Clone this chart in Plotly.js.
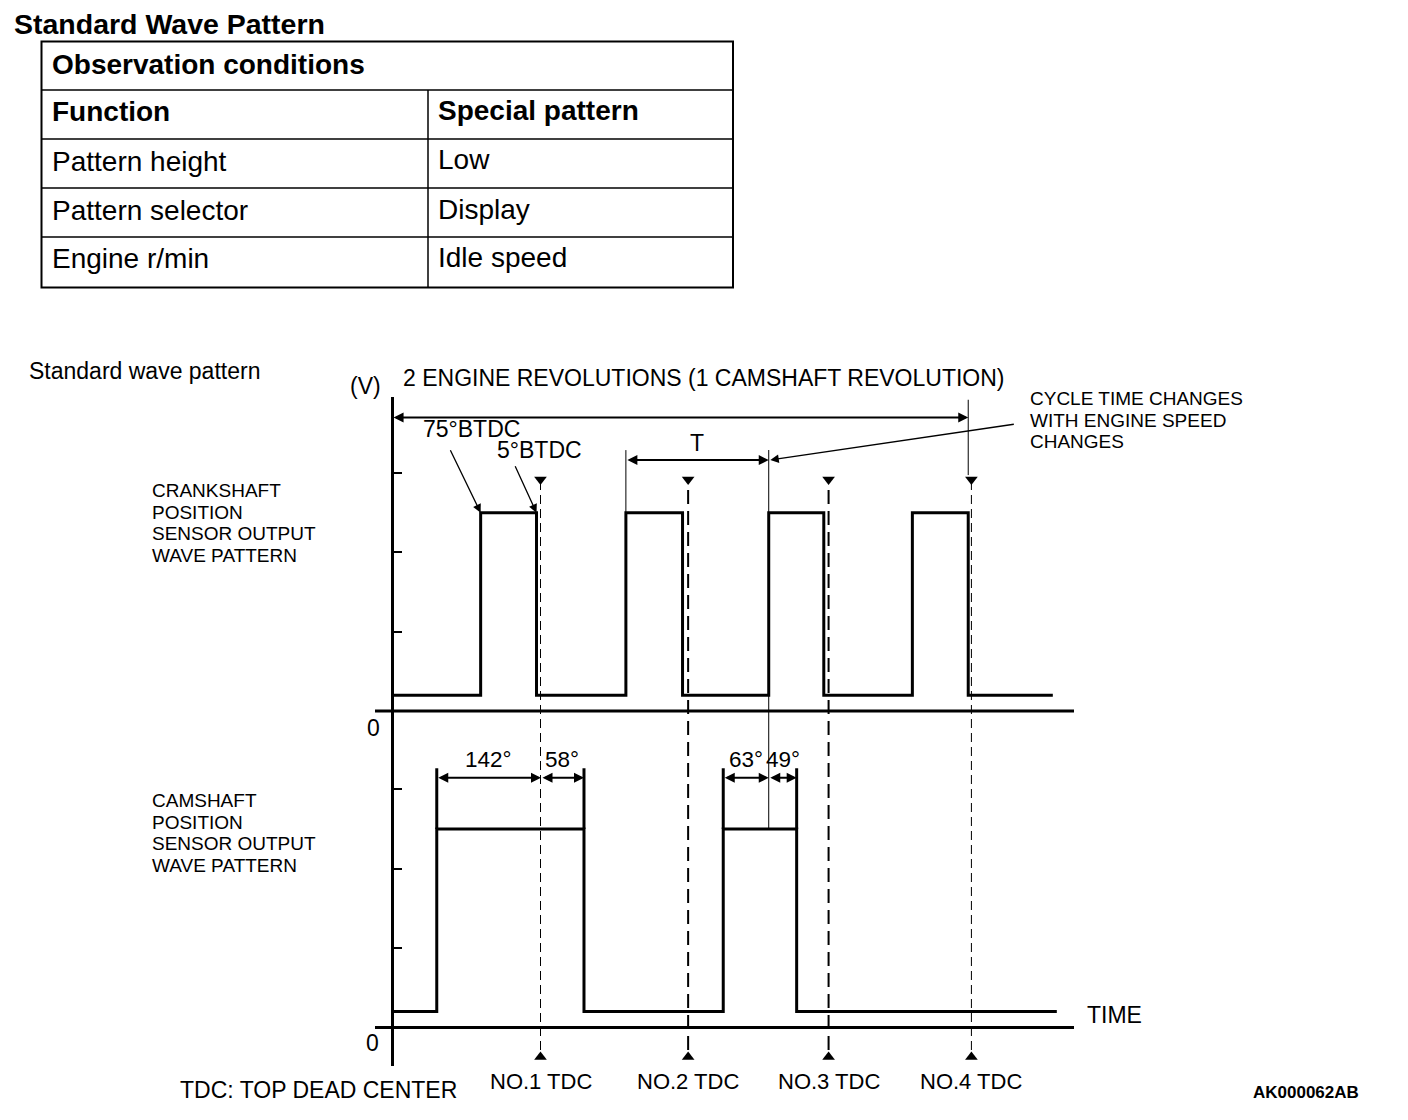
<!DOCTYPE html>
<html><head><meta charset="utf-8">
<script src="https://cdn.plot.ly/plotly-3.0.1.min.js"></script>
<style>html,body{margin:0;padding:0;background:#fff}</style>
</head><body><div id="chart" style="width:1408px;height:1120px"></div>
<script>
// ---------------- data ----------------
const tableTitle = 'Observation conditions';
const tableColumns = ['Function', 'Special pattern'];
const tableFunctions = ['Pattern height', 'Pattern selector', 'Engine r/min'];
const tableSettings = ['Low', 'Display', 'Idle speed'];

// crank angle (deg, 0 = NO.1 TDC)
const waveStart = -186;
const crankEdges = [-75, -5, 107, 178, 286, 355, 466, 536]; // rise, fall, rise, fall ...
const crankEnd = 642;
const camEdges = [-130, 54.5, 229, 321];
const camEnd = 647;
const lowVolt = 0.4;
const highVolt = 5.0;
const voltTicks = [2, 4, 6];
const tdcDeg = [0, 185, 361, 540];
const tdcLabels = ['NO.1 TDC', 'NO.2 TDC', 'NO.3 TDC', 'NO.4 TDC'];
const crankLabels = ['CRANKSHAFT', 'POSITION', 'SENSOR OUTPUT', 'WAVE PATTERN'];
const camLabels = ['CAMSHAFT', 'POSITION', 'SENSOR OUTPUT', 'WAVE PATTERN'];
const camDimStart = [-130, 0.6, 229, 286];
const camDimEnd = [0.6, 54.5, 286, 321];
const camDimLabels = ['142°', '58°', '63°', '49°'];
const cycleNote = ['CYCLE TIME CHANGES', 'WITH ENGINE SPEED', 'CHANGES'];

// ---------------- helpers ----------------
const W = 1408, H = 1120;
const FONT = 'Liberation Sans, Arial, sans-serif';
const fx = px => px / W;
const fy = py => 1 - py / H;
const degAt = px => (px - 540.5) / 0.798;

function steps(start, edges, end) {
  const xs = [start], ys = [lowVolt];
  edges.forEach((e, i) => { xs.push(e); ys.push(i % 2 === 0 ? highVolt : lowVolt); });
  xs.push(end); ys.push(lowVolt);
  return {xs, ys};
}
const crank = steps(waveStart, crankEdges, crankEnd);
const cam = steps(waveStart, camEdges, camEnd);

const traces = [
  {x: crank.xs, y: crank.ys, xaxis: 'x', yaxis: 'y', mode: 'lines',
   line: {shape: 'hv', color: '#000', width: 3}, hoverinfo: 'skip'},
  {x: cam.xs, y: cam.ys, xaxis: 'x', yaxis: 'y2', mode: 'lines',
   line: {shape: 'hv', color: '#000', width: 3}, hoverinfo: 'skip'},
  {x: tdcDeg, y: tdcDeg.map(() => 5.84), xaxis: 'x', yaxis: 'y', mode: 'markers',
   marker: {symbol: 'triangle-down', size: 11, color: '#000'}, hoverinfo: 'skip'},
  {x: tdcDeg, y: tdcDeg.map(() => -0.74), xaxis: 'x', yaxis: 'y2', mode: 'markers',
   marker: {symbol: 'triangle-up', size: 11, color: '#000'}, hoverinfo: 'skip'}
];

const shapes = [];
const line = (o) => shapes.push(Object.assign({type: 'line', layer: 'above'}, o));
// table
line({type: 'rect', xref: 'paper', yref: 'paper', x0: fx(41.5), x1: fx(733), y0: fy(41.5), y1: fy(287.5), line: {color: '#000', width: 2}});
[90, 139, 188, 237].forEach(y => line({xref: 'paper', yref: 'paper', x0: fx(41.5), x1: fx(733), y0: fy(y), y1: fy(y), line: {color: '#000', width: 1.5}}));
line({xref: 'paper', yref: 'paper', x0: fx(428), x1: fx(428), y0: fy(90), y1: fy(287.5), line: {color: '#000', width: 1.5}});
// zero baselines
const baseSpan = [degAt(375), degAt(1074)];
line({xref: 'x', yref: 'y', x0: baseSpan[0], x1: baseSpan[1], y0: 0, y1: 0, line: {color: '#000', width: 3}});
line({xref: 'x', yref: 'y2', x0: baseSpan[0], x1: baseSpan[1], y0: 0, y1: 0, line: {color: '#000', width: 3}});
// TDC dashed lines
tdcDeg.forEach((d, i) => {
  const bold = (i === 1 || i === 2);
  line({xref: 'x', yref: 'paper', x0: d, x1: d, y0: fy(1050), y1: fy(484),
        line: {color: '#000', width: bold ? 2 : 1, dash: bold ? '14px,7px' : '9px,5px'}});
});
// 2-rev extension at right end
line({xref: 'x', yref: 'y', x0: crankEdges[7], x1: crankEdges[7], y0: 5.95, y1: 7.85, line: {color: '#000', width: 1}});
// T extension lines
line({xref: 'x', yref: 'y', x0: crankEdges[2], x1: crankEdges[2], y0: highVolt, y1: 6.58, line: {color: '#000', width: 1}});
line({xref: 'x', yref: 'paper', x0: crankEdges[4], x1: crankEdges[4], y0: fy(828), y1: fy(450), line: {color: '#000', width: 1}});
// cam dimension extension lines
camEdges.forEach(d =>
  line({xref: 'x', yref: 'y2', x0: d, x1: d, y0: highVolt, y1: 6.53, line: {color: '#000', width: 3}}));

const annotations = [];
function txt(text, x, y, o) {
  annotations.push(Object.assign({text: text, x: fx(x), y: fy(y), xref: 'paper', yref: 'paper',
    showarrow: false, xanchor: 'left', yanchor: 'middle', align: 'left',
    font: {family: FONT, size: 23, color: '#000'}}, o || {}));
}
// stacked label block: one annotation per line
function block(lines, x, yCenter) {
  const gap = 21.5;
  lines.forEach((s, i) => txt(s, x, yCenter + (i - (lines.length - 1) / 2) * gap,
    {font: {family: FONT, size: 19, color: '#000'}}));
}
function dimArrow(x0, x1, y, yref) {
  annotations.push({text: '', xref: 'x', yref: yref, axref: 'x', ayref: yref, x: x1, y: y, ax: x0, ay: y,
    showarrow: true, arrowside: 'end+start', arrowhead: 2, startarrowhead: 2, arrowsize: 1, startarrowsize: 1,
    arrowwidth: 2, arrowcolor: '#000', standoff: 0, startstandoff: 0});
}
function leader(x, y, yref, ax, ay) {
  annotations.push({text: '', xref: 'x', yref: yref, x: x, y: y, ax: ax, ay: ay,
    showarrow: true, arrowhead: 2, arrowsize: 1.3, arrowwidth: 1.3, arrowcolor: '#000', standoff: 0});
}
// title + table
txt('<b>Standard Wave Pattern</b>', 12, 24, {font: {family: FONT, size: 28.5, color: '#000'}});
const tf = {family: FONT, size: 28, color: '#000'};
txt('<b>' + tableTitle + '</b>', 50, 64, {font: tf});
txt('<b>' + tableColumns[0] + '</b>', 50, 112, {font: tf});
txt('<b>' + tableColumns[1] + '</b>', 436, 111, {font: tf});
tableFunctions.forEach((t, i) => txt(t, 50, 161 + 49 * i, {font: tf}));
tableSettings.forEach((t, i) => txt(t, 436, 160 + 49 * i, {font: tf}));
// diagram texts
txt('Standard wave pattern', 27, 371);
txt('(V)', 365.5, 386, {xanchor: 'center'});
txt('2 ENGINE REVOLUTIONS (1 CAMSHAFT REVOLUTION)', 401, 378);
block(cycleNote, 1028, 420);
txt('75°BTDC', 471, 429, {xanchor: 'center'});
txt('5°BTDC', 539, 450, {xanchor: 'center'});
txt('T', 697, 443, {xanchor: 'center'});
block(crankLabels, 150, 523);
block(camLabels, 150, 833);
txt('0', 373, 728, {xanchor: 'center'});
txt('0', 372, 1043, {xanchor: 'center'});
txt('TIME', 1085, 1015);
txt('TDC: TOP DEAD CENTER', 178, 1090);
txt('<b>AK000062AB</b>', 1306, 1092, {xanchor: 'center', font: {family: FONT, size: 17, color: '#000'}});
tdcDeg.forEach((d, i) => annotations.push({text: tdcLabels[i], xref: 'x', yref: 'paper', x: d, y: fy(1081),
  showarrow: false, xanchor: 'center', yanchor: 'middle', font: {family: FONT, size: 22, color: '#000'}}));
camDimLabels.forEach((t, i) => annotations.push({text: t, xref: 'x', yref: 'y2', x: (camDimStart[i] + camDimEnd[i]) / 2, y: 6.76,
  showarrow: false, xanchor: 'center', yanchor: 'middle', font: {family: FONT, size: 22.5, color: '#000'}}));
// arrows
dimArrow(waveStart, crankEdges[7], 7.40, 'y');
dimArrow(crankEdges[2], crankEdges[4], 6.33, 'y');
camDimStart.forEach((s, i) => dimArrow(s, camDimEnd[i], 6.29, 'y2'));
leader(crankEdges[0], highVolt, 'y', -31, -64);
leader(crankEdges[1], highVolt, 'y', -22, -48);
leader(crankEdges[4] + 2, 6.33, 'y', 245, -36);

const yCommon = {anchor: 'free', position: fx(392.3), showline: true, linewidth: 3, linecolor: '#000',
  ticks: 'inside', ticklen: 8, tickwidth: 2, tickcolor: '#000', tickvals: voltTicks,
  showticklabels: false, showgrid: false, zeroline: false, fixedrange: true};

const layout = {
  width: W, height: H, margin: {l: 0, r: 0, t: 0, b: 0},
  paper_bgcolor: '#fff', plot_bgcolor: 'rgba(0,0,0,0)', showlegend: false,
  font: {family: FONT, color: '#000'},
  xaxis: {visible: false, domain: [0, 1], range: [degAt(0), degAt(W)], fixedrange: true},
  yaxis: Object.assign({}, yCommon, {domain: [fy(730), fy(397)], range: [(711 - 730) / 39.65, (711 - 397) / 39.65]}),
  yaxis2: Object.assign({}, yCommon, {domain: [fy(1066), fy(711)], range: [(1027.5 - 1066) / 39.7, (1027.5 - 711) / 39.7]}),
  shapes: shapes, annotations: annotations, hovermode: false
};
Plotly.newPlot('chart', traces, layout, {staticPlot: true, displayModeBar: false});
</script></body></html>
